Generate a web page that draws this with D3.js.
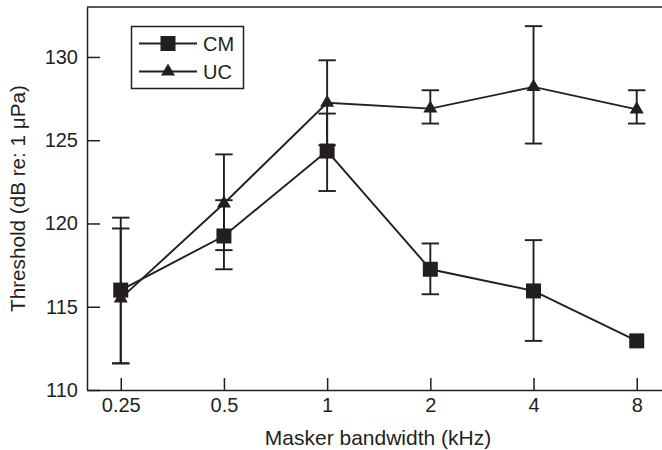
<!DOCTYPE html>
<html>
<head>
<meta charset="utf-8">
<script src="https://cdn.jsdelivr.net/npm/d3@7"></script>
<style>
  body { margin: 0; background: #fff; }
  svg { display: block; font-family: "Liberation Sans", Arial, sans-serif; }
  .axis text { font-size: 20px; fill: #231f20; }
  .axis path, .axis line { stroke: #231f20; stroke-width: 1.5; }
</style>
</head>
<body>
<div id="chart"></div>
<script>
// masker bandwidths (kHz)
var bandwidths = [0.25, 0.5, 1, 2, 4, 8];

// CM thresholds and error bar ends
var cmValues = [116.0, 119.25, 124.35, 117.25, 115.95, 112.95];
var cmLow    = [111.6, 117.25, 121.95, 115.75, 112.95, null];
var cmHigh   = [120.35, 121.4, 126.6, 118.8, 119.0, null];

// UC thresholds and error bar ends
var ucValues = [115.5, 121.2, 127.25, 126.9, 128.2, 126.85];
var ucLow    = [111.6, 118.4, 124.7, 126.0, 124.8, 126.0];
var ucHigh   = [119.7, 124.15, 129.8, 128.0, 131.85, 128.0];

var yTicks = [110, 115, 120, 125, 130];

var width = 662;
var height = 450;
// plot frame (window.top is taken, so use own names)
var frameL = 87, frameR = 662, frameT = 7, frameB = 390;
var ink = "#231f20";

var svg = d3.select("#chart")
            .append("svg")
            .attr("width", width)
            .attr("height", height);

// log2 axis, the frame runs a bit past the first and last bandwidth
var x = d3.scaleLog().base(2)
          .domain([0.25 / Math.pow(2, 0.327), 8 * Math.pow(2, 0.245)])
          .range([frameL, frameR]);

var y = d3.scaleLinear()
          .domain([110, 133])
          .range([frameB, frameT]);

// frame: top line only, no right side
svg.append("line")
   .attr("x1", frameL).attr("x2", frameR)
   .attr("y1", frameT).attr("y2", frameT)
   .attr("stroke", ink).attr("stroke-width", 1.5);

var xAxis = d3.axisBottom(x)
              .tickValues(bandwidths)
              .tickFormat(d => d)
              .tickSizeInner(-12)
              .tickSizeOuter(0)
              .tickPadding(8);

var yAxis = d3.axisLeft(y)
              .tickValues(yTicks)
              .tickSizeInner(-13)
              .tickSizeOuter(0)
              .tickPadding(9);

svg.append("g")
   .attr("class", "axis")
   .attr("transform", `translate(0,${frameB})`)
   .call(xAxis);

svg.append("g")
   .attr("class", "axis")
   .attr("transform", `translate(${frameL},0)`)
   .call(yAxis);

// axis titles
svg.append("text")
   .attr("x", 378)
   .attr("y", 445)
   .attr("text-anchor", "middle")
   .attr("font-size", 21)
   .attr("fill", ink)
   .text("Masker bandwidth (kHz)");

svg.append("text")
   .attr("transform", `translate(25,${(frameT + frameB) / 2}) rotate(-90)`)
   .attr("text-anchor", "middle")
   .attr("font-size", 20.7)
   .attr("fill", ink)
   .text("Threshold (dB re: 1 μPa)");

var line = d3.line()
             .x(d => x(d.b))
             .y(d => y(d.v));

function rows(values, lo, hi) {
  return bandwidths.map((b, i) => ({ b: b, v: values[i], lo: lo[i], hi: hi[i] }));
}

var cm = rows(cmValues, cmLow, cmHigh);
var uc = rows(ucValues, ucLow, ucHigh);

var capHalf = 8.7;

function errorBars(data) {
  var g = svg.append("g")
             .attr("stroke", ink)
             .attr("stroke-width", 1.9);
  var withBars = data.filter(d => d.lo != null);
  g.selectAll("line.stem").data(withBars).enter().append("line")
   .attr("x1", d => x(d.b)).attr("x2", d => x(d.b))
   .attr("y1", d => y(d.lo)).attr("y2", d => y(d.hi));
  g.selectAll("line.capLo").data(withBars).enter().append("line")
   .attr("x1", d => x(d.b) - capHalf).attr("x2", d => x(d.b) + capHalf)
   .attr("y1", d => y(d.lo)).attr("y2", d => y(d.lo));
  g.selectAll("line.capHi").data(withBars).enter().append("line")
   .attr("x1", d => x(d.b) - capHalf).attr("x2", d => x(d.b) + capHalf)
   .attr("y1", d => y(d.hi)).attr("y2", d => y(d.hi));
}

errorBars(uc);
errorBars(cm);

// connecting lines
svg.append("path")
   .datum(uc)
   .attr("d", line)
   .attr("fill", "none")
   .attr("stroke", ink)
   .attr("stroke-width", 1.9);

svg.append("path")
   .datum(cm)
   .attr("d", line)
   .attr("fill", "none")
   .attr("stroke", ink)
   .attr("stroke-width", 1.9);

// markers
var square = d3.symbol().type(d3.symbolSquare).size(15 * 15);
var triangle = d3.symbol().type(d3.symbolTriangle).size(85);

svg.selectAll("path.uc").data(uc).enter().append("path")
   .attr("class", "uc")
   .attr("d", triangle)
   .attr("transform", d => `translate(${x(d.b)},${y(d.v)})`)
   .attr("fill", ink);

svg.selectAll("path.cm").data(cm).enter().append("path")
   .attr("class", "cm")
   .attr("d", square)
   .attr("transform", d => `translate(${x(d.b)},${y(d.v)})`)
   .attr("fill", ink);

// legend
var legend = svg.append("g");
legend.append("rect")
      .attr("x", 131.5).attr("y", 26.5)
      .attr("width", 112).attr("height", 62)
      .attr("fill", "#fff")
      .attr("stroke", ink)
      .attr("stroke-width", 1.5);

var legendItems = [
  { name: "CM", sym: square, y: 43.5 },
  { name: "UC", sym: triangle, y: 71.5 }
];

legendItems.forEach(function(it) {
  legend.append("line")
        .attr("x1", 139).attr("x2", 197)
        .attr("y1", it.y).attr("y2", it.y)
        .attr("stroke", ink).attr("stroke-width", 1.9);
  legend.append("path")
        .attr("d", it.sym)
        .attr("transform", `translate(168,${it.y})`)
        .attr("fill", ink);
  legend.append("text")
        .attr("x", 203)
        .attr("y", it.y)
        .attr("dy", "0.36em")
        .attr("font-size", 20)
        .attr("fill", ink)
        .text(it.name);
});
</script>
</body>
</html>
